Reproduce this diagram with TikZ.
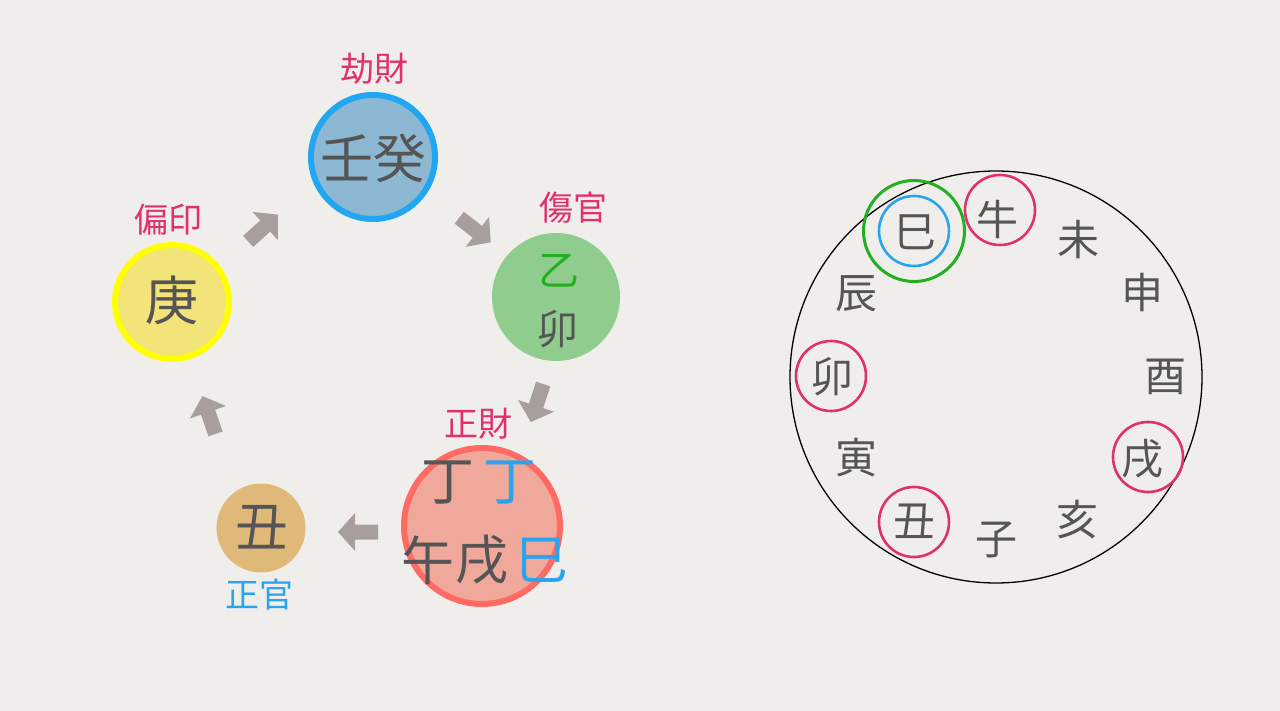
\documentclass[tikz,border=0pt]{standalone}
\usepackage{fontspec}
\setmainfont{Noto Sans CJK JP}
\definecolor{bg}{HTML}{F0EEEB}
\definecolor{ink}{HTML}{555555}
\definecolor{mag}{HTML}{E0306E}
\definecolor{sky}{HTML}{2AA4EE}
\definecolor{grn}{HTML}{22B022}
\definecolor{fillblue}{HTML}{8DB8D4}
\definecolor{linblue}{HTML}{22A6F2}
\definecolor{fillgreen}{HTML}{90CC8E}
\definecolor{fillyellow}{HTML}{F2E478}
\definecolor{linyellow}{HTML}{FFFF00}
\definecolor{filltan}{HTML}{E0B878}
\definecolor{fillred}{HTML}{F0A89A}
\definecolor{linred}{HTML}{FF6A64}
\definecolor{arrowc}{HTML}{A89F9C}
\tikzset{
  blockarrow/.pic={\fill[arrowc] (-20,-7.5) -- (3,-7.5) -- (3,-19) -- (20,0) -- (3,19) -- (3,7.5) -- (-20,7.5) -- cycle;},
  lab/.style={inner sep=0pt, font=\fontsize{34}{34}\selectfont},
  big/.style={inner sep=0pt, text=ink, font=\fontsize{53}{53}\selectfont},
  mid/.style={inner sep=0pt, text=ink, font=\fontsize{41}{41}\selectfont},
  br/.style={inner sep=0pt, text=ink, font=\fontsize{42}{42}\selectfont},
  ring/.style={circle, draw=mag, line width=2.6pt, minimum size=70pt, inner sep=0pt},
}
\begin{document}
\begin{tikzpicture}[x=1pt,y=-1pt]
\fill[bg] (0,0) rectangle (1280,711);
\useasboundingbox (0,0) rectangle (1280,711);

% left cycle circles
\node[circle, fill=fillblue, draw=linblue, line width=6pt, minimum size=124pt, inner sep=0pt] (water) at (373,157) {};
\node[circle, fill=fillgreen, minimum size=128pt, inner sep=0pt] (wood) at (556,297) {};
\node[circle, fill=fillyellow, draw=linyellow, line width=6pt, minimum size=114pt, inner sep=0pt] (metal) at (172,302) {};
\node[circle, fill=filltan, minimum size=89pt, inner sep=0pt] (earth) at (261,528) {};
\node[circle, fill=fillred, draw=linred, line width=6pt, minimum size=156pt, inner sep=0pt] (fire) at (482,526) {};

% texts in circles
\node[big] (t1) at (373,158) {壬癸};
\node[big] (t2) at (172,300) {庚};
\node[mid, text=grn] (t3) at (559,271) {乙};
\node[mid] (t4) at (558,329) {卯};
\node[big] (t5) at (262,527) {丑};
\node[big] (t6) at (448,483) {丁};
\node[big, text=sky] (t7) at (510,483) {丁};
\node[big] (t8) at (428,560) {午};
\node[big] (t9) at (482,560) {戌};
\node[big, text=sky] (t10) at (542,560) {巳};

% labels
\node[lab, text=mag] (l1) at (374,69) {劫財};
\node[lab, text=mag] (l2) at (168,220) {偏印};
\node[lab, text=mag] (l3) at (573,208) {傷官};
\node[lab, text=mag] (l4) at (478,424) {正財};
\node[lab, text=sky] (l5) at (259,595) {正官};

% block arrows
\pic[rotate=42] (a1) at (263,228) {blockarrow};
\pic[rotate=-38] (a2) at (475,230) {blockarrow};
\pic[rotate=-108] (a3) at (537,403) {blockarrow};
\pic[rotate=180] (a4) at (358,532) {blockarrow};
\pic[rotate=109] (a5) at (209,415) {blockarrow};

% right: branch circle
\node[circle, draw=black, line width=1.3pt, minimum size=412pt, inner sep=0pt] (wheel) at (996,377) {};
\node[br] (b6) at (915,232) {巳};
\node[br] (b7) at (997,220) {牛};
\node[br] (b8) at (1078,240) {未};
\node[br] (b9) at (1142,293) {申};
\node[br] (b10) at (1165,377) {酉};
\node[br] (b11) at (1142,459) {戌};
\node[br] (b12) at (1077,520) {亥};
\node[br] (b1) at (996,540) {子};
\node[br] (b2) at (914,521) {丑};
\node[br] (b3) at (856,458) {寅};
\node[br] (b4) at (832,377) {卯};
\node[br] (b5) at (856,294) {辰};

\node[ring, draw=sky] (r6a) at (914,231) {};
\node[ring, draw=grn, line width=3pt, minimum size=101pt] (r6b) at (914,231) {};
\node[ring] (r7) at (1000,210) {};
\node[ring] (r11) at (1148,457) {};
\node[ring] (r2) at (914,522) {};
\node[ring] (r4) at (831,376) {};
\end{tikzpicture}
\end{document}
